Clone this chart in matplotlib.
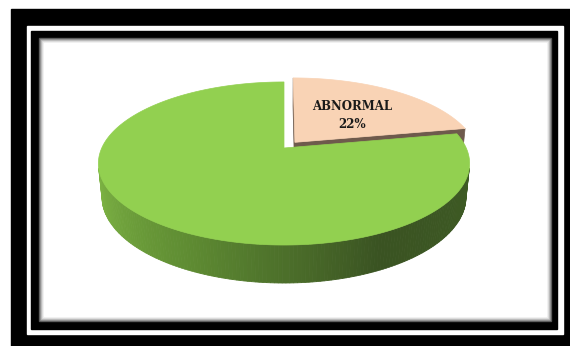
import numpy as np
import matplotlib.pyplot as plt
from matplotlib.patches import Polygon, Rectangle
from matplotlib.colors import LinearSegmentedColormap

# Chart data
categories = ['ABNORMAL', 'NORMAL']
shares = [22, 78]
show_label = [True, False]
explode = [0.095, 0.0]
top_colors = ['#f9d3b5', '#92d050']
side_stops = [['#6e5a4c', '#6e5a4c'],
              ['#7fb645', '#5e8b32', '#3a5322', '#3e5b24']]

# 3D look (Excel style perspective pie)
ELEV = np.radians(26)
DIST = 4.73
FX, FY = 862, 848
CX, CY = 284, 148
DEPTH = 0.207
ce, se = np.cos(ELEV), np.sin(ELEV)
cam = np.array([0.0, -DIST * ce, DIST * se])


def project(x, y, z):
    w = DIST + y * ce - z * se
    return CX + FX * x / w, CY - FY * (y * se + z * ce) / w


def rim(t, off, z):
    xs, ys = project(np.cos(t) + off[0], np.sin(t) + off[1], z)
    return np.column_stack([xs, ys])


fig = plt.figure(figsize=(5.7, 3.46), dpi=100)
ax = fig.add_axes([0, 0, 1, 1])
ax.set_xlim(0, 570)
ax.set_ylim(346, 0)
ax.axis('off')

# picture frame
ax.add_patch(Rectangle((11, 9), 559, 337, color='black'))
ax.add_patch(Rectangle((27, 26), 536, 308, color='white'))
ax.add_patch(Rectangle((31, 31), 526, 298, color='black'))
for i, g in enumerate(['#555555', '#8a8a8a', '#b5b5b5', '#d8d8d8', '#eeeeee']):
    ax.add_patch(Rectangle((39 + i, 38 + i), 512 - 2 * i, 283 - 2 * i, color=g))
ax.add_patch(Rectangle((44, 43), 502, 273, color='white'))

# slice angles: start at 12 o'clock, clockwise
bounds = 90 - np.cumsum([0] + shares) * 3.6
slices = []
for i in range(len(shares)):
    lo, hi = np.radians(bounds[i + 1]), np.radians(bounds[i])
    mid = (lo + hi) / 2
    off = explode[i] * np.array([np.cos(mid), np.sin(mid)])
    slices.append((i, lo, hi, mid, off))

# paint back slices first
slices.sort(key=lambda s: -np.sin(s[3]))
for i, lo, hi, mid, off in slices:
    cmap = LinearSegmentedColormap.from_list('side%d' % i, side_stops[i])
    # radial faces
    for a, sign in [(lo, 1), (hi, -1)]:
        normal = sign * np.array([np.sin(a), -np.cos(a), 0])
        p = np.array([off[0] + 0.5 * np.cos(a), off[1] + 0.5 * np.sin(a), 0])
        if normal @ (cam - p) > 0:
            pts = [project(off[0], off[1], 0), project(off[0] + np.cos(a), off[1] + np.sin(a), 0),
                   project(off[0] + np.cos(a), off[1] + np.sin(a), -DEPTH), project(off[0], off[1], -DEPTH)]
            ax.add_patch(Polygon(pts, closed=True, fc=cmap(0.5), ec=cmap(0.5), lw=0.5))
    # outer wall, only the part facing the camera
    t = np.linspace(lo, hi, max(int(np.degrees(hi - lo)), 2) + 1)
    facing = -1 - (off[0] * np.cos(t) + (DIST * ce + off[1]) * np.sin(t)) > 0
    vis_lo, vis_hi = np.radians(180) + np.arcsin(1 / (DIST * ce)), np.radians(360) - np.arcsin(1 / (DIST * ce))
    for k in range(len(t) - 1):
        if facing[k] and facing[k + 1]:
            tt = np.array([t[k], t[k + 1]])
            frac = ((t[k] % (2 * np.pi)) - vis_lo) / (vis_hi - vis_lo)
            col = cmap(np.clip(frac, 0, 1))
            pts = np.vstack([rim(tt, off, 0), rim(tt[::-1], off, -DEPTH)])
            ax.add_patch(Polygon(pts, closed=True, fc=col, ec=col, lw=0.6))
    # top
    t = np.linspace(lo, hi, 200)
    pts = np.vstack([[project(off[0], off[1], 0)], rim(t, off, 0)])
    ax.add_patch(Polygon(pts, closed=True, fc=top_colors[i], ec=top_colors[i], lw=0.5))
    # data label
    if show_label[i]:
        lx, ly = project(off[0] + 0.55 * np.cos(mid), off[1] + 0.55 * np.sin(mid), 0)
        ax.text(lx, ly - 6, categories[i], ha='center', va='center', fontsize=8.5,
                fontweight='bold', family='DejaVu Serif', color='#1a1a1a')
        ax.text(lx, ly + 12, '%d%%' % shares[i], ha='center', va='center', fontsize=8.5,
                fontweight='bold', family='DejaVu Serif', color='#1a1a1a')

fig.savefig('out.png', dpi=100)
